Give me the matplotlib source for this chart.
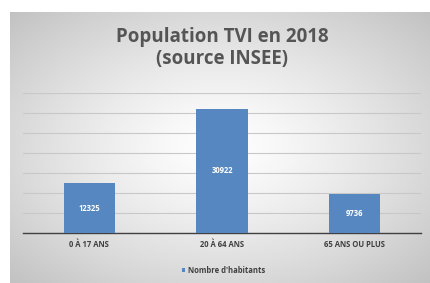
import matplotlib
matplotlib.use("Agg")
import matplotlib.pyplot as plt
import numpy as np

categories = ["0 À 17 ANS", "20 À 64 ANS", "65 ANS OU PLUS"]
habitants = [12325, 30922, 9736]
series_name = "Nombre d'habitants"
title = "Population TVI en 2018\n(source INSEE)"

BAR_COLOR = "#5687C0"
TEXT_GREY = "#555555"

plt.rcParams["font.family"] = ["Open Sans", "DejaVu Sans"]

fig = plt.figure(figsize=(4.3, 2.83), dpi=100)
fig.patch.set_facecolor("white")

# radial grey gradient behind the chart (white centre, grey edges)
bg = fig.add_axes([10 / 430, 0, 420 / 430, 271 / 283])
yy, xx = np.mgrid[-1:1:200j, -1:1:300j]
r = np.clip(np.sqrt(xx ** 2 + yy ** 2) / np.sqrt(2), 0, 1)
shade = 1.0 - 0.24 * r ** 1.3
img = np.dstack([shade, shade, shade])
bg.imshow(img, aspect="auto", extent=[0, 1, 0, 1], interpolation="bilinear")
bg.set_axis_off()

ax = fig.add_axes([23 / 430, 50.3 / 283, 398 / 430, 140 / 283])
ax.set_facecolor("none")
x = np.arange(len(categories))
bars = ax.bar(x, habitants, width=0.385, color=BAR_COLOR, label=series_name, zorder=3)
ax.bar_label(bars, labels=[str(v) for v in habitants], label_type="center",
             color="white", fontsize=5.5, fontweight="bold")

ax.set_xlim(-0.5, 2.5)
ax.set_ylim(0, 35000)
ax.set_yticks(np.arange(0, 35001, 5000))
ax.yaxis.grid(True, color="#C8C8C8", lw=0.8, zorder=0)
ax.tick_params(axis="y", left=False, labelleft=False)
ax.set_xticks(x)
ax.set_xticklabels(categories, fontsize=5.5, fontweight="bold", color="#404040")
ax.tick_params(axis="x", length=0, pad=5)
for s in ["top", "right", "left"]:
    ax.spines[s].set_visible(False)
ax.spines["bottom"].set_color("#404040")
ax.spines["bottom"].set_linewidth(1.0)

fig.text(0.517, 0.905, title, ha="center", va="top", fontsize=13.5,
         fontweight="bold", color=TEXT_GREY, linespacing=1.15)

fig.legend(handles=[bars], labels=[series_name], loc="center",
           bbox_to_anchor=(0.52, 0.045), frameon=False,
           handlelength=0.5, handleheight=0.5, handletextpad=0.4,
           labelcolor="#404040", prop={"weight": "bold", "size": 5.5})

fig.savefig("out.png", dpi=100)
